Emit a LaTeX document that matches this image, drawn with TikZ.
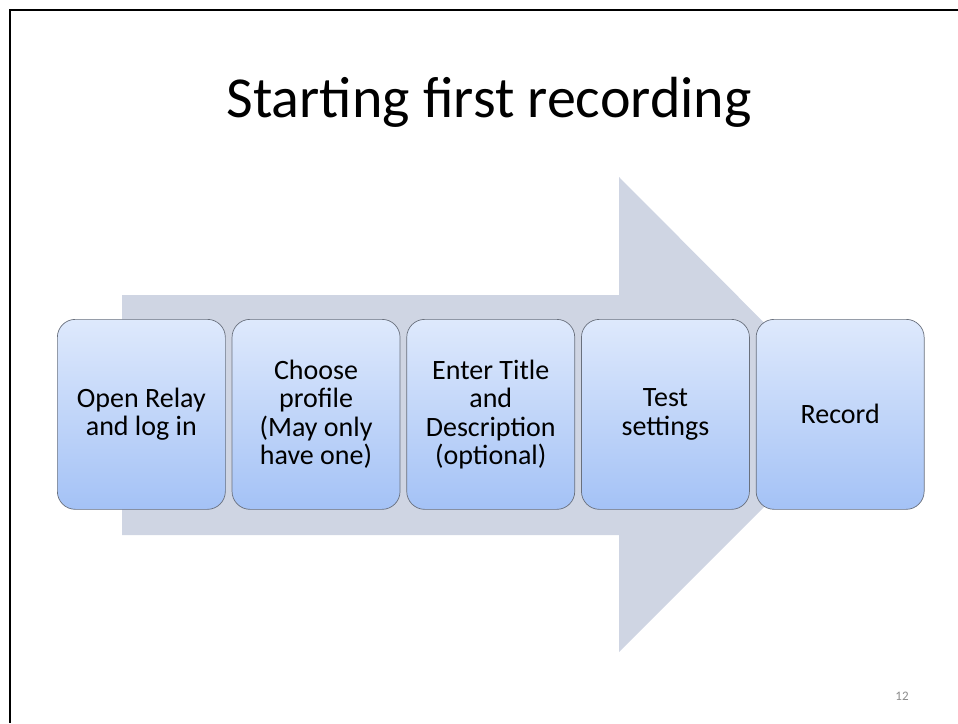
\documentclass[tikz,border=0pt]{standalone}
\usepackage{fontspec}
\setmainfont{Carlito}
\usepackage{tikz}
\usetikzlibrary{positioning}
\definecolor{arrowfill}{RGB}{207,213,227}
\definecolor{boxtop}{RGB}{222,233,252}
\definecolor{boxbottom}{RGB}{164,194,246}
\definecolor{boxline}{RGB}{105,112,125}
\definecolor{pagenum}{RGB}{140,140,140}

\begin{document}
\begin{tikzpicture}[x=1pt, y=-1pt,
  stepbox/.style={draw=boxline, line width=0.7pt, rounded corners=18pt,
    top color=boxtop, bottom color=boxbottom,
    minimum width=168pt, minimum height=190pt, inner sep=0pt,
    align=center, font=\fontsize{28}{28.5}\selectfont}]
  \useasboundingbox (0,0) rectangle (958,723);
  % slide frame
  \draw[line width=2pt] (958,10) -- (10,10) -- (10,723);
  % title
  \node[anchor=base, font=\fontsize{58}{69}\selectfont] (title) at (489,117) {Starting first recording};
  % big background arrow
  \fill[arrowfill] (122,295) -- (619,295) -- (619,177) -- (856,415)
    -- (619,652) -- (619,535) -- (122,535) -- cycle;
  % steps
  \node[stepbox, anchor=north west] (open) at (57,319) {Open Relay\\and log in};
  \node[stepbox, right=6pt of open] (profile) {Choose\\profile\\(May only\\have one)};
  \node[stepbox, right=6pt of profile] (title2) {Enter Title\\and\\Description\\(optional)};
  \node[stepbox, right=6pt of title2] (test) {Test\\settings};
  \node[stepbox, right=6pt of test] (record) {Record};
  % slide number
  \node[anchor=base, text=pagenum, font=\fontsize{13}{15}\selectfont] (num) at (902,700) {12};
\end{tikzpicture}
\end{document}
